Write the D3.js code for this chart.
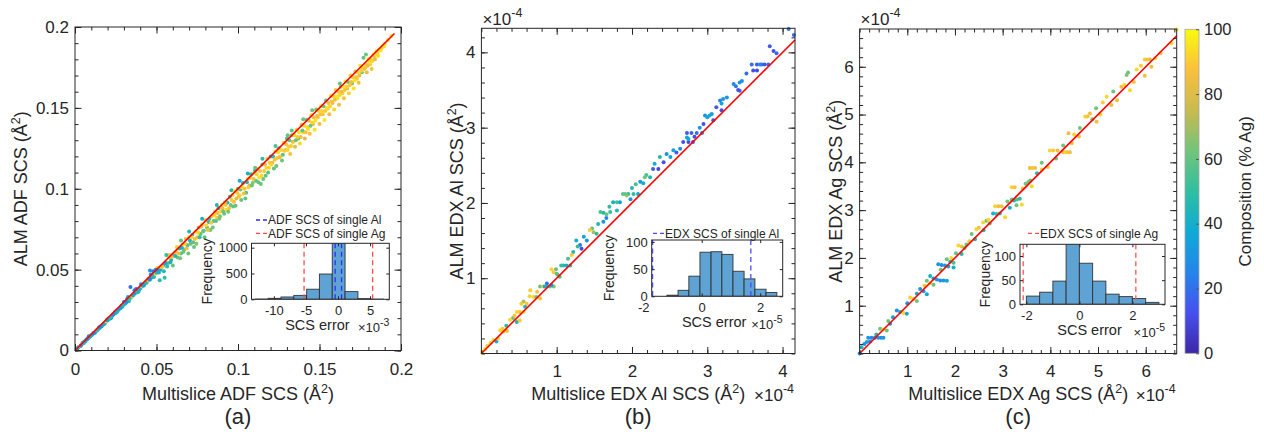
<!DOCTYPE html>
<html><head><meta charset="utf-8">
<script src="https://cdnjs.cloudflare.com/ajax/libs/d3/7.8.5/d3.min.js"></script>
<style>
body{margin:0;background:#fff}
svg{display:block}
text{font-family:"Liberation Sans",Arial,Helvetica,sans-serif;fill:#262626}
</style>
</head><body>
<svg id="chart" width="1264" height="437"></svg>
<script>
// ---------------- DATA ----------------
// Panel (a): [multislice ADF SCS, ALM ADF SCS, composition %Ag]
const adfPoints = [
[0.002,0.002,35],[0.003,0.0025,92],[0.004,0.0035,30],[0.0045,0.0048,85],[0.005,0.005,40],[0.006,0.0055,25],[0.0065,0.0058,38],
[0.007,0.0068,45],[0.008,0.0075,30],[0.0085,0.0088,22],[0.009,0.0082,50],[0.010,0.0095,35],[0.0105,0.0098,48],[0.011,0.0103,28],
[0.012,0.0108,45],[0.0125,0.0115,30],[0.013,0.0125,90],[0.014,0.0128,35],[0.0145,0.0140,42],[0.015,0.0138,40],[0.016,0.0149,25],
[0.0165,0.0152,35],[0.017,0.0158,48],[0.018,0.0165,33],[0.0185,0.0170,45],[0.019,0.0180,92],[0.020,0.0186,38],[0.0205,0.0198,25],
[0.021,0.0195,45],[0.022,0.0200,30],[0.0225,0.0210,40],[0.023,0.0218,42],[0.024,0.0225,88],[0.0245,0.0238,32],[0.025,0.0232,35],
[0.026,0.0240,50],[0.0265,0.0250,46],[0.027,0.0258,28],[0.028,0.0262,44],[0.0285,0.0275,30],[0.029,0.0270,38],[0.030,0.0285,55],
[0.030,0.0300,25],[0.0305,0.0295,40],[0.031,0.0290,42],[0.032,0.0318,22],[0.0325,0.0330,35],[0.033,0.0305,48],[0.034,0.0392,20],
[0.0345,0.0330,45],[0.035,0.0335,85],[0.036,0.0345,40],[0.0365,0.0372,25],[0.037,0.0355,30],[0.038,0.0370,92],[0.0385,0.0360,50],
[0.039,0.0365,45],[0.040,0.0385,35],[0.0405,0.0410,30],[0.041,0.0395,88],[0.042,0.0400,50],[0.0425,0.0405,42],[0.043,0.0415,28],
[0.044,0.0420,45],[0.0445,0.0430,88],[0.045,0.0445,95],[0.046,0.0437,40],[0.0465,0.0470,30],[0.047,0.0452,33],[0.048,0.0490,22],
[0.0485,0.0455,50],[0.049,0.0475,90],[0.050,0.0480,45],[0.0505,0.0510,92],[0.051,0.0495,30],[0.052,0.0435,48],[0.0525,0.0500,40],
[0.053,0.0515,85],[0.054,0.0525,40],[0.055,0.0450,50],[0.056,0.0545,92],[0.057,0.0540,60],[0.058,0.0590,88],[0.059,0.0560,45],
[0.060,0.0590,35],[0.060,0.0525,60],
[0.0015,0.0012,40],[0.0035,0.0030,28],[0.0055,0.0047,45],[0.0075,0.0070,35],[0.0095,0.0090,42],[0.0115,0.0108,25],[0.0135,0.0123,48],
[0.0155,0.0148,30],[0.0175,0.0163,40],[0.0195,0.0188,35],[0.0215,0.0203,48],[0.0235,0.0222,28],[0.0255,0.0246,42],[0.0275,0.0260,35],
[0.0295,0.0282,45],[0.0315,0.0300,30],[0.0335,0.0318,50],[0.0355,0.0342,38],[0.0375,0.0380,20],[0.0395,0.0378,42],[0.0415,0.0402,35],
[0.0435,0.0418,48],[0.0455,0.0440,25],[0.0475,0.0462,45],[0.0495,0.0500,30],[0.0515,0.0482,42],[0.0535,0.0520,88],[0.0545,0.0490,45],
[0.0555,0.0540,38],[0.0565,0.0520,50],[0.0575,0.0575,90],[0.0585,0.0545,42],[0.0595,0.0580,85],[0.0460,0.0495,30],[0.0560,0.0590,50],
[0.061,0.0605,90],[0.062,0.0610,80],[0.063,0.0575,62],[0.064,0.0630,45],[0.065,0.0600,58],[0.066,0.0655,92],[0.067,0.0625,65],
[0.068,0.0690,85],[0.069,0.0650,55],[0.070,0.0700,90],[0.071,0.0660,60],[0.072,0.0715,48],[0.073,0.0640,62],[0.074,0.0735,95],
[0.075,0.0700,85],[0.076,0.0760,70],[0.077,0.0720,58],[0.078,0.0780,92],[0.079,0.0740,50],[0.080,0.0805,88],[0.081,0.0760,60],
[0.082,0.0795,45],[0.083,0.0745,63],[0.084,0.0830,92],[0.085,0.0800,57],[0.086,0.0860,80],[0.087,0.0820,90],[0.088,0.0880,50],
[0.089,0.0830,65],[0.090,0.0900,95],
[0.0615,0.0585,45],[0.0625,0.0640,92],[0.0635,0.0600,88],[0.0645,0.0570,62],[0.0655,0.0635,40],[0.0665,0.0610,60],[0.0675,0.0660,90],
[0.0685,0.0630,85],[0.0695,0.0600,62],[0.0705,0.0680,45],[0.0715,0.0700,92],[0.0725,0.0670,58],[0.0735,0.0690,88],[0.0745,0.0660,65],
[0.0755,0.0730,92],[0.0765,0.0700,50],[0.0775,0.0765,85],[0.0785,0.0735,62],[0.0795,0.0700,60],[0.0805,0.0775,92],[0.0815,0.0745,88],
[0.0825,0.0815,55],[0.0835,0.0790,90],[0.0845,0.0760,62],[0.0855,0.0840,92],[0.0865,0.0800,58],[0.0875,0.0850,88],[0.0885,0.0815,65],
[0.0895,0.0860,92],[0.0905,0.0880,85],[0.0915,0.0845,62],[0.0925,0.0900,90],[0.0935,0.0915,45],[0.0945,0.0880,88],[0.0955,0.0900,62],
[0.0965,0.0960,92],[0.0975,0.0920,85],[0.0985,0.0895,60],[0.0995,0.0975,90],[0.0650,0.0680,60],[0.0700,0.0735,45],[0.0780,0.0815,40],
[0.0870,0.0900,45],[0.0960,0.0990,45],
[0.091,0.0860,60],[0.092,0.0915,85],[0.093,0.0870,92],[0.094,0.0858,62],[0.095,0.0950,48],[0.096,0.0930,90],[0.097,0.0890,60],
[0.098,0.0985,95],[0.099,0.0940,82],[0.100,0.1000,55],[0.101,0.0960,92],[0.102,0.0930,62],[0.103,0.1035,45],[0.104,0.1000,88],
[0.105,0.0975,58],[0.106,0.1060,92],[0.107,0.1020,80],[0.108,0.1090,48],[0.109,0.1035,65],[0.110,0.1100,93],[0.111,0.1050,58],
[0.112,0.1120,85],[0.113,0.1070,95],[0.114,0.1030,62],[0.115,0.1150,55],[0.116,0.1110,90],[0.117,0.1080,60],[0.118,0.1185,88],
[0.119,0.1130,92],[0.120,0.1200,45],
[0.1005,0.0950,88],[0.1015,0.0995,62],[0.1025,0.1010,92],[0.1035,0.0970,85],[0.1045,0.0940,60],[0.1055,0.1040,45],[0.1065,0.1010,90],
[0.1075,0.1070,92],[0.1085,0.1020,62],[0.1095,0.1060,88],[0.1105,0.1115,45],[0.1115,0.1090,92],[0.1125,0.1040,60],[0.1135,0.1110,88],
[0.1145,0.1080,92],[0.1155,0.1060,62],[0.1165,0.1150,85],[0.1175,0.1130,92],[0.1185,0.1100,58],[0.1195,0.1160,90],[0.1010,0.1050,40],
[0.1060,0.1095,42],[0.1150,0.1185,48],[0.1105,0.1130,62],
[0.121,0.1160,82],[0.122,0.1125,60],[0.123,0.1230,92],[0.124,0.1190,90],[0.125,0.1250,58],[0.126,0.1200,95],[0.127,0.1175,62],
[0.128,0.1285,90],[0.129,0.1240,85],[0.130,0.1310,55],[0.131,0.1260,92],[0.132,0.1215,88],[0.133,0.1330,65],[0.134,0.1290,95],
[0.135,0.1260,82],[0.136,0.1365,90],[0.137,0.1310,60],[0.138,0.1280,93],[0.139,0.1395,85],[0.140,0.1350,92],[0.141,0.1310,80],
[0.142,0.1425,60],[0.143,0.1370,95],[0.144,0.1340,88],[0.145,0.1455,92],[0.146,0.1400,82],[0.147,0.1365,95],[0.148,0.1490,65],
[0.149,0.1440,90],[0.150,0.1400,85],
[0.1205,0.1150,92],[0.1215,0.1200,48],[0.1225,0.1180,88],[0.1235,0.1140,62],[0.1245,0.1225,92],[0.1255,0.1195,85],[0.1265,0.1240,92],
[0.1275,0.1210,60],[0.1285,0.1235,90],[0.1295,0.1275,88],[0.1305,0.1240,92],[0.1315,0.1300,55],[0.1325,0.1265,90],[0.1335,0.1290,85],
[0.1345,0.1330,92],[0.1355,0.1300,62],[0.1365,0.1320,90],[0.1375,0.1350,95],[0.1385,0.1320,85],[0.1395,0.1360,60],[0.1405,0.1390,92],
[0.1415,0.1350,88],[0.1425,0.1380,92],[0.1435,0.1420,85],[0.1445,0.1390,62],[0.1455,0.1410,92],[0.1465,0.1440,88],[0.1475,0.1420,95],
[0.1485,0.1450,85],[0.1495,0.1480,92],[0.1230,0.1265,55],[0.1305,0.1330,60],[0.1330,0.1360,60],[0.1400,0.1430,62],[0.1455,0.1485,62],
[0.151,0.1510,92],[0.152,0.1460,88],[0.153,0.1425,95],[0.154,0.1545,60],[0.155,0.1495,90],[0.156,0.1460,85],[0.157,0.1575,95],
[0.158,0.1530,82],[0.159,0.1490,92],[0.160,0.1610,88],[0.161,0.1560,95],[0.162,0.1520,85],[0.163,0.1630,62],[0.164,0.1590,92],
[0.165,0.1560,88],[0.166,0.1665,95],[0.167,0.1620,83],[0.168,0.1590,92],[0.169,0.1700,90],[0.170,0.1650,65],[0.171,0.1620,95],
[0.172,0.1725,85],[0.173,0.1680,92],[0.174,0.1655,88],[0.175,0.1760,95],[0.176,0.1720,62],[0.177,0.1810,60],[0.178,0.1750,92],
[0.179,0.1720,85],[0.180,0.1800,95],[0.181,0.1770,90],[0.182,0.1740,88],[0.183,0.1830,95],[0.184,0.1800,82],[0.185,0.1850,92],
[0.186,0.1820,95],[0.188,0.1870,90],[0.190,0.1895,95],[0.192,0.1920,93],[0.194,0.1945,95],
[0.1505,0.1460,88],[0.1515,0.1480,92],[0.1525,0.1510,62],[0.1535,0.1480,90],[0.1545,0.1500,95],[0.1555,0.1530,85],[0.1565,0.1510,92],
[0.1575,0.1540,88],[0.1585,0.1570,92],[0.1595,0.1550,85],[0.1605,0.1570,95],[0.1615,0.1600,90],[0.1625,0.1580,92],[0.1635,0.1600,85],
[0.1645,0.1630,95],[0.1655,0.1610,88],[0.1665,0.1630,92],[0.1675,0.1660,62],[0.1685,0.1640,90],[0.1695,0.1660,85],[0.1705,0.1690,92],
[0.1715,0.1670,95],[0.1725,0.1690,88],[0.1735,0.1720,92],[0.1745,0.1700,85],[0.1755,0.1730,92],[0.1765,0.1750,95],[0.1775,0.1740,88],
[0.1785,0.1770,92],[0.1795,0.1760,85],[0.1805,0.1785,95],[0.1815,0.1800,90],[0.1825,0.1790,92],[0.1835,0.1820,88],[0.1845,0.1830,95],
[0.1855,0.1835,92],[0.1865,0.1860,90],[0.1875,0.1855,95],[0.1885,0.1880,92],[0.1895,0.1880,95],[0.1625,0.1650,60],[0.1785,0.1830,62]
];
// Panel (b): [multislice EDX Al SCS (x1e-4), ALM EDX Al SCS (x1e-4), composition]
const alPoints = [
[4.08,4.31,20],[4.15,4.23,20],[3.83,4.08,15],[3.88,4.02,12],[3.92,3.99,18],
[3.59,3.84,20],[3.66,3.84,15],[3.72,3.84,22],[3.81,3.84,18],[3.61,3.76,12],[3.66,3.76,10],[3.70,3.84,25],[3.76,3.84,12],
[3.35,3.58,25],[3.43,3.60,30],[3.41,3.50,12],[3.43,3.49,15],[3.52,3.72,20],[3.46,3.62,28],[3.38,3.55,22],
[3.17,3.36,25],[3.19,3.32,35],[3.21,3.38,30],[3.19,3.23,12],[3.26,3.40,30],[3.12,3.27,15],
[2.97,3.16,30],[3.00,3.14,35],[3.03,3.16,38],[2.95,3.05,12],[3.06,3.18,32],[3.08,3.10,12],[2.90,3.00,30],
[2.73,2.93,15],[2.79,2.93,18],[2.86,2.93,20],[2.93,2.93,22],[2.68,2.81,12],[2.75,2.81,10],[2.81,2.81,15],[2.83,2.88,12],
[2.73,2.87,35],[2.75,2.85,38],[2.59,2.67,15],[2.46,2.65,30],[2.51,2.61,35],[2.37,2.61,45],[2.42,2.54,12],[2.35,2.45,10],
[2.64,2.72,28],[2.55,2.70,35],[2.30,2.52,40],[2.28,2.45,15],
[2.19,2.37,55],[2.24,2.34,45],[2.17,2.34,62],[2.11,2.28,30],[2.15,2.26,40],[2.05,2.25,55],[2.00,2.20,45],
[1.88,2.12,58],[1.95,2.12,45],[2.02,2.12,50],[2.08,2.12,40],[1.93,2.10,70],[1.98,2.05,30],[1.91,2.12,60],
[1.75,2.01,40],[1.80,2.01,55],[1.84,2.01,35],[1.80,1.90,45],[1.70,1.95,50],[1.66,1.80,25],
[1.58,1.88,55],[1.62,1.87,45],[1.66,1.85,60],[1.71,1.88,50],[1.62,1.75,30],[1.55,1.72,45],[1.47,1.66,60],
[1.44,1.64,90],[1.49,1.61,70],[1.53,1.59,50],[1.40,1.50,30],[1.31,1.44,20],[1.33,1.39,12],[1.26,1.50,40],[1.36,1.55,35],
[1.28,1.42,50],[1.22,1.35,45],[1.15,1.26,55],
[1.09,1.17,45],[1.13,1.17,40],[1.18,1.17,48],[1.20,1.31,90],[1.06,1.17,50],[0.99,1.12,60],[1.01,1.05,45],
[0.96,1.08,90],[1.00,1.06,60],[1.04,1.02,55],[0.93,1.12,92],
[0.78,0.89,60],[0.82,0.89,90],[0.87,0.89,50],[0.91,0.89,55],[0.96,0.89,65],[0.87,0.93,20],[0.84,0.89,40],[0.93,0.91,30],
[0.69,0.75,92],[0.73,0.75,60],[0.78,0.73,88],[0.65,0.84,90],[0.74,0.82,88],[0.64,0.76,92],
[0.56,0.69,70],[0.60,0.66,88],[0.47,0.55,92],[0.51,0.55,88],[0.56,0.55,95],[0.58,0.62,45],[0.53,0.66,90],
[0.42,0.47,60],[0.47,0.42,45],[0.51,0.44,90],[0.44,0.50,88],[0.38,0.45,92],[0.33,0.37,50],[0.28,0.33,90],
[0.25,0.31,92],[0.29,0.29,90],[0.34,0.30,88],[0.16,0.18,92],[0.20,0.16,40],[0.22,0.20,90],[0.12,0.14,92],[0.08,0.10,90],
[0.05,0.06,95],[0.01,0.02,95]
];
// Panel (c): [multislice EDX Ag SCS (x1e-4), ALM EDX Ag SCS (x1e-4), composition]
const agPoints = [
[6.65,6.78,95],[6.54,6.49,92],[6.31,6.28,85],[5.98,6.15,90],[6.03,6.15,88],[6.09,6.15,82],[5.98,5.81,85],[5.81,5.94,92],
[5.60,5.83,65],[5.63,5.88,62],[5.67,5.51,92],[5.49,5.58,85],[5.32,5.48,62],[5.28,5.20,85],[5.18,5.37,92],[4.96,5.13,62],
[4.97,4.85,85],[4.73,4.96,92],[4.78,4.96,88],[4.83,5.02,85],[4.62,4.72,62],[4.60,4.54,85],[4.38,4.61,85],[4.27,4.21,85],
[4.32,4.21,92],[4.36,4.21,88],[4.41,4.21,85],[4.27,4.35,62],[3.99,4.25,92],[4.06,4.25,90],[3.82,3.99,62],[3.82,3.85,92],
[3.57,3.88,85],[3.62,3.88,88],[3.68,3.88,85],[3.72,3.77,45],[3.54,3.59,62],[3.58,3.62,60],[3.61,3.50,92],[3.19,3.48,92],
[3.25,3.48,88],[3.19,3.22,62],[3.24,3.20,45],[3.30,3.22,55],[3.36,3.24,50],[3.40,3.12,92],[3.29,3.10,62],[2.84,3.08,92],
[2.91,3.08,85],[2.98,3.08,88],[2.80,2.93,40],[2.87,2.92,50],[2.94,2.93,45],[3.05,2.85,92],[2.59,2.74,92],[2.66,2.78,62],
[2.73,2.72,60],[2.50,2.63,85],[2.45,2.60,92],[2.42,2.39,45],[2.07,2.26,92],[2.14,2.24,88],[2.20,2.21,62],[2.24,2.28,60],
[2.14,2.08,45],[1.83,1.97,62],[1.90,1.92,45],[1.97,1.90,55],[1.65,1.87,30],[1.72,1.85,28],[1.79,1.84,32],[1.86,1.82,35],
[1.97,1.80,40],[1.48,1.62,40],[1.55,1.57,30],[1.62,1.55,32],[1.69,1.53,28],[1.76,1.53,30],[1.83,1.52,35],[1.41,1.52,62],
[1.48,1.47,92],[1.55,1.44,60],[1.27,1.35,30],[1.34,1.30,32],[1.41,1.24,35],[1.06,1.17,92],[1.13,1.14,88],[1.20,1.10,62],
[0.78,0.90,30],[0.85,0.87,40],[0.92,0.85,92],[0.99,0.83,35],[0.64,0.62,30],[0.43,0.52,62],[0.50,0.50,92],[0.57,0.48,60],
[0.18,0.33,30],[0.25,0.33,28],[0.32,0.33,25],[0.39,0.33,30],[0.45,0.33,28],[0.50,0.33,32],[0.15,0.24,35],[0.04,0.13,40],[0.00,0.00,25],
[6.20,6.18,92],[6.12,6.00,85],[5.90,6.02,90],[5.75,5.68,88],[5.55,5.62,92],[5.40,5.30,85],[5.10,5.25,90],[5.05,5.00,92],
[4.88,4.90,62],[4.50,4.58,92],[4.45,4.40,88],[4.15,4.25,85],[4.12,4.08,62],[3.95,3.90,90],[3.48,3.55,62],[3.42,3.45,88],
[3.10,3.18,62],[3.15,3.05,40],[2.70,2.80,92],[2.60,2.58,45],[2.35,2.50,62],[2.30,2.35,88],[2.02,2.10,60],[1.92,2.00,92],
[1.70,1.75,62],[1.36,1.42,88],[1.20,1.25,40],[1.00,1.05,30],[0.70,0.76,35],[0.60,0.68,62],[0.35,0.40,45],[0.10,0.20,30],[0.22,0.25,25]
];
// y = x reference line end points
const adfLine = [0, 0.196];
const alLine = [0, 4.165];
const agLine = [0, 6.65];

// Main axes ticks
const adfTicks = [0, 0.05, 0.1, 0.15, 0.2];
const adfTickLabels = ["0", "0.05", "0.1", "0.15", "0.2"];
const alTicks = [1, 2, 3, 4];
const alTickLabels = ["1", "2", "3", "4"];
const agTicks = [1, 2, 3, 4, 5, 6];
const agTickLabels = ["1", "2", "3", "4", "5", "6"];

// Inset histograms (SCS error)
const adfHistEdges = [-12.9, -10.9, -8.9, -6.9, -4.9, -2.9, -0.9, 1.1, 3.1, 5.1, 7.1];   // x1e-3
const adfHistCounts = [4, 18, 45, 75, 195, 490, 1500, 150, 14, 3];
const adfSingleAl = [-0.45, 0.55];
const adfSingleAg = [-5.3, 5.4];
const alHistEdges = [-1.19, -0.81, -0.44, -0.06, 0.32, 0.69, 1.07, 1.45, 1.82, 2.20, 2.57]; // x1e-5
const alHistCounts = [2, 11, 37, 81, 82, 77, 46, 32, 13, 7];
const alSingleAl = [-1.68, 1.68];
const agHistEdges = [-2, -1.5, -1, -0.5, 0, 0.5, 1, 1.5, 2, 2.5, 3];                   // x1e-5
const agHistCounts = [17, 25, 48, 130, 85, 48, 21, 16, 12, 4];
const agSingleAg = [-2.12, 2.13];

// Colorbar
const cbTicks = [0, 20, 40, 60, 80, 100];
const parulaStops = ["#3e26a8","#4750ef","#2485ea","#0eaad6","#2fbfa0","#72c47a","#c9bb50","#fbbf3c","#f9fb0e"];

// ---------------- DRAWING ----------------
const svg = d3.select("#chart");
const INK = "#262626";
const color = d3.scaleLinear()
  .domain(parulaStops.map((_, i) => i * 100 / (parulaStops.length - 1)))
  .range(parulaStops).interpolate(d3.interpolateRgb);

function styleAxis(g, fs) {
  g.attr("font-size", fs).attr("font-family", null).attr("color", INK);
  g.select(".domain").remove();
}

// parts: [{t, sup}] ; superscripts are raised with dy, following text is lowered back
function addSupText(parent, attrs, parts, fs, supFs, shift) {
  const t = parent.append("text");
  Object.entries(attrs).forEach(([k, v]) => t.attr(k, v));
  t.attr("font-size", fs);
  let raised = false;
  parts.forEach(p => {
    const s = t.append("tspan").attr("font-size", p.sup ? supFs : fs).text(p.t);
    if (p.sup && !raised) { s.attr("dy", -shift); raised = true; }
    else if (!p.sup && raised) { s.attr("dy", shift); raised = false; }
  });
  return t;
}

function mainPanel(p) {
  const g = svg.append("g");
  const x = d3.scaleLinear().domain([0, p.xmax]).range([p.x0, p.x1]);
  const y = d3.scaleLinear().domain([0, p.ymax]).range([p.y1, p.y0]);

  g.append("g").selectAll("circle").data(p.points).join("circle")
    .attr("cx", d => x(d[0])).attr("cy", d => y(d[1])).attr("r", 2)
    .attr("fill", d => color(d[2]));

  g.append("line")
    .attr("x1", x(p.line[0])).attr("y1", y(p.line[0]))
    .attr("x2", x(p.line[1])).attr("y2", y(p.line[1]))
    .attr("stroke", "#ff0000").attr("stroke-width", 1.6);

  const minorX = d3.range(0, p.xmax + 1e-9, p.minor);
  const minorY = d3.range(0, p.ymax + 1e-9, p.minor);
  const fmt = (vals, labels) => (d) => labels[vals.indexOf(d)];

  [[d3.axisBottom(x), p.y1, minorX], [d3.axisTop(x), p.y0, minorX]].forEach(([ax, ty, v]) => {
    const a = g.append("g").attr("transform", `translate(0,${ty})`)
      .call(ax.tickValues(v).tickFormat("").tickSize(-3.5));
    styleAxis(a, 10);
  });
  [[d3.axisLeft(y), p.x0, minorY], [d3.axisRight(y), p.x1, minorY]].forEach(([ax, tx, v]) => {
    const a = g.append("g").attr("transform", `translate(${tx},0)`)
      .call(ax.tickValues(v).tickFormat("").tickSize(-3.5));
    styleAxis(a, 10);
  });
  const bx = g.append("g").attr("transform", `translate(0,${p.y1})`)
    .call(d3.axisBottom(x).tickValues(p.ticks).tickFormat(fmt(p.ticks, p.tickLabels)).tickSize(-6.5).tickPadding(p.xpad));
  styleAxis(bx, 17);
  const tx = g.append("g").attr("transform", `translate(0,${p.y0})`)
    .call(d3.axisTop(x).tickValues(p.ticks).tickFormat("").tickSize(-6.5));
  styleAxis(tx, 17);
  const ly = g.append("g").attr("transform", `translate(${p.x0},0)`)
    .call(d3.axisLeft(y).tickValues(p.ticks).tickFormat(fmt(p.ticks, p.tickLabels)).tickSize(-6.5).tickPadding(6));
  styleAxis(ly, 17);
  const ry = g.append("g").attr("transform", `translate(${p.x1},0)`)
    .call(d3.axisRight(y).tickValues(p.ticks).tickFormat("").tickSize(-6.5));
  styleAxis(ry, 17);

  g.append("rect").attr("x", p.x0).attr("y", p.y0)
    .attr("width", p.x1 - p.x0).attr("height", p.y1 - p.y0)
    .attr("fill", "none").attr("stroke", INK).attr("stroke-width", 1);

  addSupText(g, {x: (p.x0 + p.x1) / 2, y: 400, "text-anchor": "middle"},
    [{t: p.xlabel + " (Å"}, {t: "2", sup: true}, {t: ")"}], 18, 12.5, 7);
  addSupText(g, {transform: `translate(${p.ylx},${(p.y0 + p.y1) / 2}) rotate(-90)`, "text-anchor": "middle"},
    [{t: p.ylabel + " (Å"}, {t: "2", sup: true}, {t: ")"}], 18, 12.5, 7);
  if (p.exp) {
    addSupText(g, {x: p.x0 + 1, y: 25}, [{t: "\u00d710"}, {t: "-4", sup: true}], 17, 12.5, 8);
    addSupText(g, {x: p.x1 - 1, y: 401, "text-anchor": "end"}, [{t: "\u00d710"}, {t: "-4", sup: true}], 17, 12.5, 8);
  }
  g.append("text").attr("x", (p.x0 + p.x1) / 2).attr("y", 424).attr("text-anchor", "middle")
    .attr("font-size", 22).text(p.letter);
}

function inset(p) {
  const g = svg.append("g");
  const x = d3.scaleLinear().domain([p.xmin, p.xmax]).range([p.x0, p.x1]);
  const y = d3.scaleLinear().domain([0, p.ymax]).range([p.y1, p.y0]);
  const id = "clip" + p.key;
  svg.append("clipPath").attr("id", id).append("rect")
    .attr("x", p.x0).attr("y", p.y0).attr("width", p.x1 - p.x0).attr("height", p.y1 - p.y0);
  g.append("rect").attr("x", p.x0).attr("y", p.y0).attr("width", p.x1 - p.x0).attr("height", p.y1 - p.y0)
    .attr("fill", "#fff");
  const inner = g.append("g").attr("clip-path", `url(#${id})`);
  inner.selectAll("rect.bar").data(p.counts).join("rect").attr("class", "bar")
    .attr("x", (d, i) => x(p.edges[i]))
    .attr("width", (d, i) => x(p.edges[i + 1]) - x(p.edges[i]))
    .attr("y", d => y(Math.min(d, p.ymax * 1.02)))
    .attr("height", d => y(0) - y(Math.min(d, p.ymax * 1.02)))
    .attr("fill", "#5fa3d4").attr("stroke", "#2b2b2b").attr("stroke-width", 1).attr("stroke-opacity", 0.85);
  p.dashes.forEach(ds => {
    inner.selectAll(null).data(ds.vals).join("line")
      .attr("x1", d => x(d)).attr("x2", d => x(d)).attr("y1", p.y0).attr("y2", p.y1)
      .attr("stroke", ds.color).attr("stroke-width", 1.3).attr("stroke-dasharray", "5,3.5");
  });
  const fmt = (vals, labels) => (d) => labels[vals.indexOf(d)];
  const bx = g.append("g").attr("transform", `translate(0,${p.y1})`)
    .call(d3.axisBottom(x).tickValues(p.xt).tickFormat(fmt(p.xt, p.xtl)).tickSize(-3).tickPadding(6));
  styleAxis(bx, 13);
  bx.selectAll(".tick line").filter(d => d < p.xmin).remove();
  const tx = g.append("g").attr("transform", `translate(0,${p.y0})`)
    .call(d3.axisTop(x).tickValues(p.xt.filter(v => v >= p.xmin)).tickFormat("").tickSize(-3));
  styleAxis(tx, 13);
  const ly = g.append("g").attr("transform", `translate(${p.x0},0)`)
    .call(d3.axisLeft(y).tickValues(p.yt).tickFormat(d => String(d)).tickSize(-3).tickPadding(4));
  styleAxis(ly, 13);
  const ry = g.append("g").attr("transform", `translate(${p.x1},0)`)
    .call(d3.axisRight(y).tickValues(p.yt).tickFormat("").tickSize(-3));
  styleAxis(ry, 13);
  g.append("rect").attr("x", p.x0).attr("y", p.y0).attr("width", p.x1 - p.x0).attr("height", p.y1 - p.y0)
    .attr("fill", "none").attr("stroke", INK).attr("stroke-width", 1);

  g.append("text").attr("transform", `translate(${p.fx},${(p.y0 + p.y1) / 2}) rotate(-90)`)
    .attr("text-anchor", "middle").attr("font-size", 14).text("Frequency");
  g.append("text").attr("x", (p.x0 + p.x1) / 2 - 3).attr("y", p.ey).attr("text-anchor", "middle")
    .attr("font-size", 14.5).text("SCS error");
  addSupText(g, {x: p.x1, y: p.ey + 2, "text-anchor": "end"}, [{t: "\u00d710"}, {t: p.exp, sup: true}], 13, 10.5, 6);

  p.legend.forEach((L, i) => {
    const ly0 = p.legY + i * 13.3;
    g.append("line").attr("x1", p.legX).attr("x2", p.legX + 11).attr("y1", ly0).attr("y2", ly0)
      .attr("stroke", L.color).attr("stroke-width", 1.3).attr("stroke-dasharray", "4,3");
    g.append("text").attr("x", p.legX + 12).attr("y", ly0 + 4.3).attr("font-size", 12).text(L.text);
  });
}

mainPanel({points: adfPoints, line: adfLine, x0: 75, x1: 401, y0: 27, y1: 350.5, xmax: 0.2, ymax: 0.2,
  minor: 0.01, ticks: adfTicks, tickLabels: adfTickLabels, xpad: 12,
  xlabel: "Multislice ADF SCS", ylabel: "ALM ADF SCS", ylx: 27, letter: "(a)", exp: false});
mainPanel({points: alPoints, line: alLine, x0: 481.4, x1: 795, y0: 28.3, y1: 353.5, xmax: 4.165, ymax: 4.32,
  minor: 0.2, ticks: alTicks, tickLabels: alTickLabels, xpad: 11,
  xlabel: "Multislice EDX Al SCS", ylabel: "ALM EDX Al SCS", ylx: 463, letter: "(b)", exp: true});
mainPanel({points: agPoints, line: agLine, x0: 859.6, x1: 1176.7, y0: 29, y1: 353.5, xmax: 6.65, ymax: 6.79,
  minor: 0.2, ticks: agTicks, tickLabels: agTickLabels, xpad: 11,
  xlabel: "Multislice EDX Ag SCS", ylabel: "ALM EDX Ag SCS", ylx: 842, letter: "(c)", exp: true});

inset({key: "a", edges: adfHistEdges, counts: adfHistCounts, x0: 251.5, x1: 389.3, y0: 243.3, y1: 299.3,
  xmin: -13.5, xmax: 8, ymax: 1085, xt: [-10, -5, 0, 5], xtl: ["-10", "-5", "0", "5"], yt: [0, 500, 1000],
  dashes: [{vals: adfSingleAl, color: "#2b2bff"}, {vals: adfSingleAg, color: "#ff4a4a"}],
  fx: 212, ey: 330, exp: "-3", legX: 256, legY: 220,
  legend: [{text: "ADF SCS of single Al", color: "#2b2bff"}, {text: "ADF SCS of single Ag", color: "#ff4a4a"}]});
inset({key: "b", edges: alHistEdges, counts: alHistCounts, x0: 651.7, x1: 782.7, y0: 240, y1: 296.3,
  xmin: -1.71, xmax: 2.77, ymax: 103.5, xt: [-2, 0, 2], xtl: ["-2", "0", "2"], yt: [0, 50, 100],
  dashes: [{vals: alSingleAl, color: "#4a4aff"}],
  fx: 614, ey: 327, exp: "-5", legX: 653, legY: 233.3,
  legend: [{text: "EDX SCS of single Al", color: "#4a4aff"}]});
inset({key: "c", edges: agHistEdges, counts: agHistCounts, x0: 1020, x1: 1165, y0: 244.3, y1: 304.3,
  xmin: -2.24, xmax: 3.23, ymax: 124.2, xt: [-2, 0, 2], xtl: ["-2", "0", "2"], yt: [0, 50, 100],
  dashes: [{vals: agSingleAg, color: "#ff5050"}],
  fx: 990, ey: 335, exp: "-5", legX: 1028, legY: 233.3,
  legend: [{text: "EDX SCS of single Ag", color: "#ff5050"}]});

// Colorbar
(function () {
  const cx0 = 1185, cx1 = 1199, cy0 = 29.3, cy1 = 353.3;
  const defs = svg.append("defs");
  const grad = defs.append("linearGradient").attr("id", "parula")
    .attr("x1", 0).attr("y1", 1).attr("x2", 0).attr("y2", 0);
  d3.range(0, 101, 2).forEach(v => grad.append("stop").attr("offset", v + "%").attr("stop-color", color(v)));
  svg.append("rect").attr("x", cx0).attr("y", cy0).attr("width", cx1 - cx0).attr("height", cy1 - cy0)
    .attr("fill", "url(#parula)").attr("stroke", "#a6a6a6").attr("stroke-width", 0.8);
  const cy = d3.scaleLinear().domain([0, 100]).range([cy1, cy0]);
  const a = svg.append("g").attr("transform", `translate(${cx1},0)`)
    .call(d3.axisRight(cy).tickValues(cbTicks).tickFormat(d => String(d)).tickSize(-3).tickPadding(5));
  styleAxis(a, 16.5);
  a.selectAll(".tick line").attr("stroke", "#555");
  svg.append("text").attr("transform", `translate(1251,${(cy0 + cy1) / 2}) rotate(-90)`)
    .attr("text-anchor", "middle").attr("font-size", 17).text("Composition (% Ag)");
})();
</script>
</body></html>
